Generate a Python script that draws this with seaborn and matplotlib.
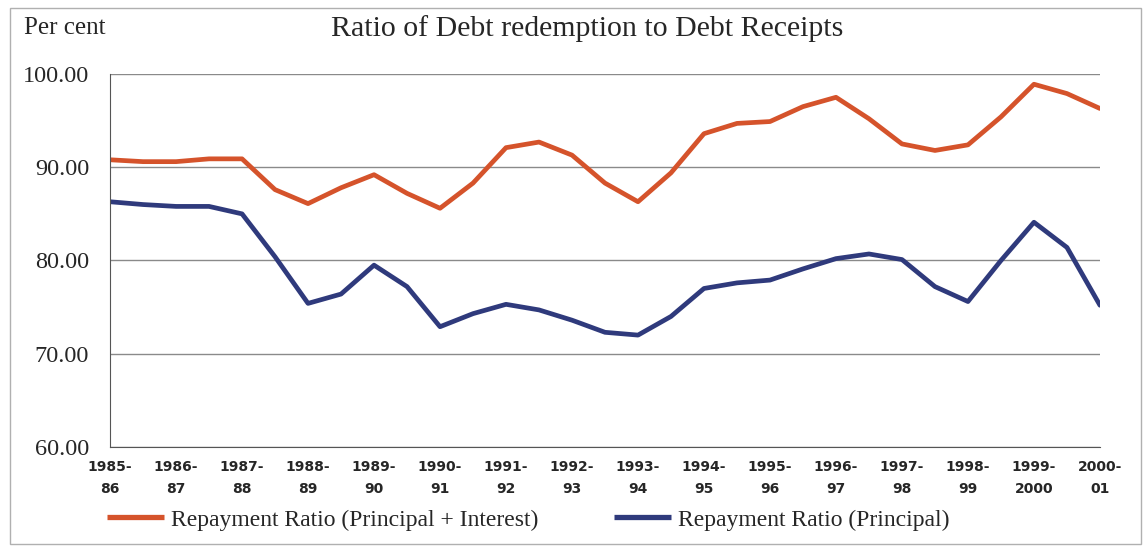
import numpy as np
import pandas as pd
import matplotlib
matplotlib.use('Agg')
import matplotlib.pyplot as plt
from matplotlib.patches import Rectangle
import seaborn as sns

# tick labels (one per financial year)
years = ['1985-\n86', '1986-\n87', '1987-\n88', '1988-\n89', '1989-\n90', '1990-\n91',
         '1991-\n92', '1992-\n93', '1993-\n94', '1994-\n95', '1995-\n96', '1996-\n97',
         '1997-\n98', '1998-\n99', '1999-\n2000', '2000-\n01']

# values every half year (0 = 1985-86 ... 15 = 2000-01)
pos = np.arange(0, 15.5, 0.5)
ratio_pi = [90.8, 90.6, 90.6, 90.9, 90.9, 87.6, 86.1, 87.8, 89.2, 87.2, 85.6,
            88.3, 92.1, 92.7, 91.3, 88.3, 86.3, 89.4, 93.6, 94.7, 94.9,
            96.5, 97.5, 95.2, 92.5, 91.8, 92.4, 95.4, 98.9, 97.9, 96.3]
ratio_p = [86.3, 86.0, 85.8, 85.8, 85.0, 80.4, 75.4, 76.4, 79.5, 77.2, 72.9,
           74.3, 75.3, 74.7, 73.6, 72.3, 72.0, 74.0, 77.0, 77.6, 77.9,
           79.1, 80.2, 80.7, 80.1, 77.2, 75.6, 80.0, 84.1, 81.4, 75.2]

lab_pi = 'Repayment Ratio (Principal + Interest)'
lab_p = 'Repayment Ratio (Principal)'
c_pi = '#D5532B'
c_p = '#2F3A7C'

df = pd.concat([
    pd.DataFrame({'pos': pos, 'ratio': ratio_pi, 'series': lab_pi}),
    pd.DataFrame({'pos': pos, 'ratio': ratio_p, 'series': lab_p}),
])

sns.set_style('white')
plt.rcParams['font.family'] = ['Liberation Serif', 'DejaVu Serif']

fig = plt.figure(figsize=(11.44, 5.46), dpi=100)
ax = fig.add_axes([0.0962, 0.1813, 0.8653, 0.6832])

sns.lineplot(data=df, x='pos', y='ratio', hue='series', sort=False,
             palette={lab_pi: c_pi, lab_p: c_p},
             linewidth=3.4, ax=ax, legend=False,
             solid_joinstyle='round', solid_capstyle='round')

ax.set_xlim(0, 15)
ax.set_ylim(60, 100)
ax.set_yticks([60, 70, 80, 90, 100])
ax.set_yticklabels(['%.2f' % v for v in [60, 70, 80, 90, 100]], fontsize=17.5)
ax.set_xticks(range(16))
ax.set_xticklabels(years, fontsize=10, fontweight='bold', family='DejaVu Sans',
                   linespacing=1.75)
ax.tick_params(axis='x', direction='inout', length=8, width=0.8, color='#555555', pad=5)
ax.tick_params(axis='y', direction='out', length=9, width=0.8, color='#666666', pad=6)
ax.yaxis.grid(True, color='#8a8a8a', linewidth=1)
ax.set_xlabel('')
ax.set_ylabel('')
for s in ['top', 'right']:
    ax.spines[s].set_visible(False)
ax.spines['left'].set_color('#555555')
ax.spines['bottom'].set_color('#555555')
ax.spines['left'].set_linewidth(0.8)
ax.spines['bottom'].set_linewidth(0.8)

fig.text(0.513, 0.948, 'Ratio of Debt redemption to Debt Receipts', ha='center',
         va='center', fontsize=21.5)
fig.text(0.021, 0.948, 'Per cent', ha='left', va='center', fontsize=18)

# legend, one entry at a time so each sits where it does in the original
for lab, col, x0 in [(lab_pi, c_pi, 0.0935), (lab_p, c_p, 0.537)]:
    fig.legend(handles=[plt.Line2D([], [], color=col, lw=3.8, solid_capstyle='butt')],
               labels=[lab], loc='center left', bbox_to_anchor=(x0, 0.048),
               frameon=False, fontsize=17, handlelength=2.4, handletextpad=0.3,
               borderpad=0, borderaxespad=0)

fig.patches.append(Rectangle((0.009, 0.004), 0.988, 0.981, transform=fig.transFigure,
                             fill=False, edgecolor='#b0b0b0', linewidth=1))

fig.savefig('out.png', dpi=100)
